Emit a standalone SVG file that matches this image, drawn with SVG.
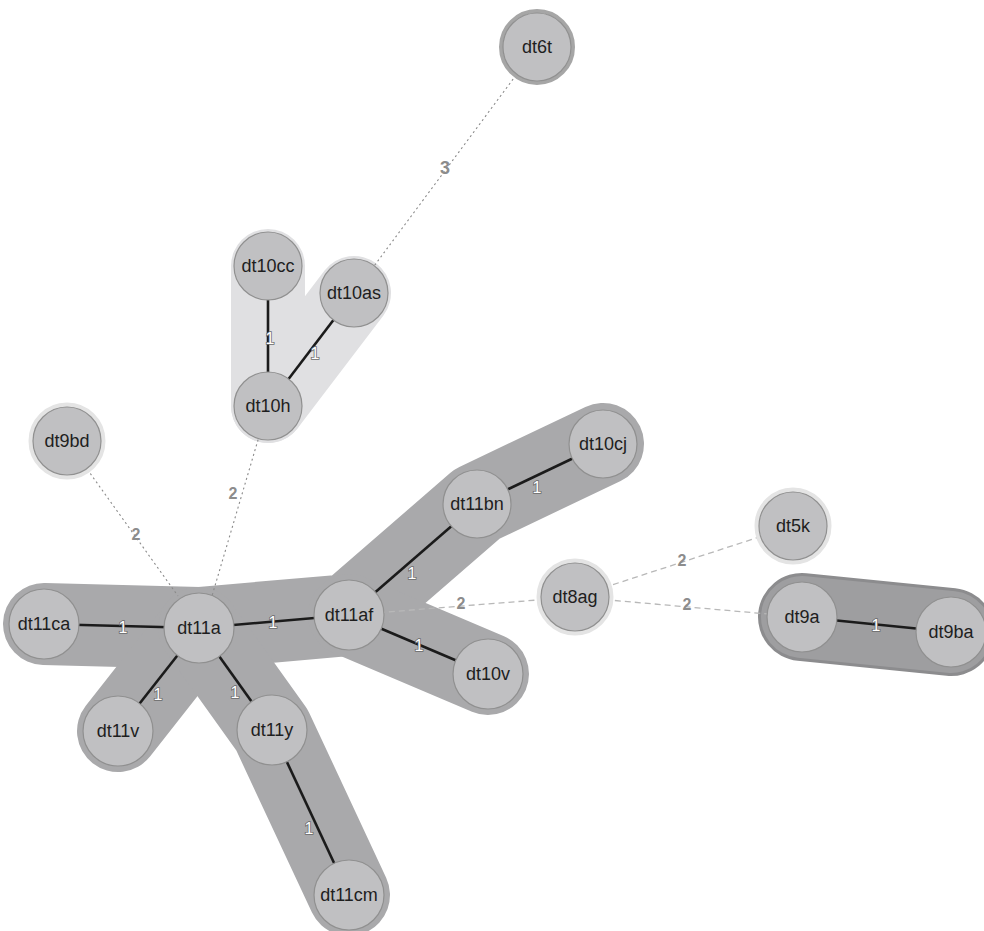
<svg xmlns="http://www.w3.org/2000/svg" width="984" height="931" viewBox="0 0 984 931">
  <style>
    .hull-main { stroke: #a9a9ab; stroke-width: 82; stroke-linecap: round; stroke-linejoin: round; fill: none; }
    .hull-light { stroke: #e0e0e2; stroke-width: 74; stroke-linecap: round; stroke-linejoin: round; fill: none; }
    .hull-dark-edge { stroke: #8c8c8e; stroke-width: 88; stroke-linecap: round; fill: none; }
    .hull-dark { stroke: #9e9ea0; stroke-width: 82; stroke-linecap: round; fill: none; }
    .e-solid { stroke: #1b1b1b; stroke-width: 2.6; fill: none; }
    .e-dot { stroke: #8a8a8a; stroke-width: 1.1; stroke-dasharray: 2 3; fill: none; }
    .e-dash { stroke: #b8b8b8; stroke-width: 1.3; stroke-dasharray: 6 4; fill: none; }
    .node circle.body { fill: #c0c0c2; stroke: #909090; stroke-width: 1.2; }
    .node circle.halo { fill: none; stroke: #e4e4e4; stroke-width: 5; }
    .node circle.ring { fill: none; stroke: #a6a6a6; stroke-width: 4; }
    .node text { font-family: "Liberation Sans", Arial, sans-serif; font-size: 18px; fill: #1e1e1e; text-anchor: middle; dominant-baseline: central; }
    .w1 { font-family: "Liberation Sans", Arial, sans-serif; font-size: 16px; fill: #ffffff; stroke: #6a6a6a; stroke-width: 1.6; paint-order: stroke; text-anchor: middle; dominant-baseline: central; }
    .w2 { font-family: "Liberation Sans", Arial, sans-serif; font-size: 16px; font-weight: bold; fill: #8c8c8c; text-anchor: middle; dominant-baseline: central; }
    .w3 { font-size: 18px; }
  </style>

  <!-- cluster hulls -->
  <g id="hulls">
    <g id="hull-main">
      <polyline class="hull-main" points="44,624 199,628 349,615 477,504 603,444"/>
      <line class="hull-main" x1="349" y1="615" x2="488" y2="674"/>
      <line class="hull-main" x1="199" y1="628" x2="118" y2="731"/>
      <polyline class="hull-main" points="199,628 272,730 349,895"/>
    </g>
    <g id="hull-dt10">
      <line class="hull-light" x1="268" y1="266" x2="268" y2="406"/>
      <line class="hull-light" x1="354" y1="293" x2="268" y2="406"/>
    </g>
    <g id="hull-dt9">
      <line class="hull-dark-edge" x1="802" y1="617" x2="951" y2="632"/>
      <line class="hull-dark" x1="802" y1="617" x2="951" y2="632"/>
    </g>
  </g>

  <!-- connectors -->
  <g id="connectors">
    <line class="e-dot" x1="537" y1="47" x2="354" y2="293"/>
    <line class="e-dot" x1="67" y1="441" x2="178" y2="596"/>
    <line class="e-dot" x1="268" y1="406" x2="212" y2="596"/>
    <line class="e-dash" x1="349" y1="615" x2="575" y2="597"/>
    <line class="e-dash" x1="575" y1="597" x2="793" y2="526"/>
    <line class="e-dash" x1="575" y1="597" x2="802" y2="617"/>

    <line class="e-solid" x1="268" y1="266" x2="268" y2="406"/>
    <line class="e-solid" x1="354" y1="293" x2="268" y2="406"/>
    <line class="e-solid" x1="44" y1="624" x2="199" y2="628"/>
    <line class="e-solid" x1="199" y1="628" x2="349" y2="615"/>
    <line class="e-solid" x1="349" y1="615" x2="477" y2="504"/>
    <line class="e-solid" x1="477" y1="504" x2="603" y2="444"/>
    <line class="e-solid" x1="349" y1="615" x2="488" y2="674"/>
    <line class="e-solid" x1="199" y1="628" x2="118" y2="731"/>
    <line class="e-solid" x1="199" y1="628" x2="272" y2="730"/>
    <line class="e-solid" x1="272" y1="730" x2="349" y2="895"/>
    <line class="e-solid" x1="802" y1="617" x2="951" y2="632"/>

    <text class="w2 w3" x="445" y="168">3</text>
    <text class="w2" x="136" y="534">2</text>
    <text class="w2" x="233" y="493">2</text>
    <text class="w2" x="461" y="603">2</text>
    <text class="w2" x="682" y="560">2</text>
    <text class="w2" x="687" y="604">2</text>

    <text class="w1" x="270" y="338">1</text>
    <text class="w1" x="315" y="353">1</text>
    <text class="w1" x="123" y="627">1</text>
    <text class="w1" x="273" y="622">1</text>
    <text class="w1" x="412" y="573">1</text>
    <text class="w1" x="537" y="487">1</text>
    <text class="w1" x="419" y="645">1</text>
    <text class="w1" x="158" y="694">1</text>
    <text class="w1" x="235" y="692">1</text>
    <text class="w1" x="309" y="828">1</text>
    <text class="w1" x="876" y="625">1</text>
  </g>

  <!-- nodes -->
  <g id="dt6t" class="node"><circle class="ring" cx="537" cy="47" r="36"/><circle class="body" cx="537" cy="47" r="34"/><text x="537" y="47">dt6t</text></g>
  <g id="dt10cc" class="node"><circle class="body" cx="268" cy="266" r="34"/><text x="268" y="266">dt10cc</text></g>
  <g id="dt10as" class="node"><circle class="body" cx="354" cy="293" r="34"/><text x="354" y="293">dt10as</text></g>
  <g id="dt10h" class="node"><circle class="body" cx="268" cy="406" r="34"/><text x="268" y="406">dt10h</text></g>
  <g id="dt9bd" class="node"><circle class="halo" cx="67" cy="441" r="36"/><circle class="body" cx="67" cy="441" r="34"/><text x="67" y="441">dt9bd</text></g>
  <g id="dt10cj" class="node"><circle class="body" cx="603" cy="444" r="34"/><text x="603" y="444">dt10cj</text></g>
  <g id="dt11bn" class="node"><circle class="body" cx="477" cy="504" r="34"/><text x="477" y="504">dt11bn</text></g>
  <g id="dt5k" class="node"><circle class="halo" cx="793" cy="526" r="36"/><circle class="body" cx="793" cy="526" r="34"/><text x="793" y="526">dt5k</text></g>
  <g id="dt8ag" class="node"><circle class="halo" cx="575" cy="597" r="36"/><circle class="body" cx="575" cy="597" r="34"/><text x="575" y="597">dt8ag</text></g>
  <g id="dt11ca" class="node"><circle class="body" cx="44" cy="624" r="35"/><text x="44" y="624">dt11ca</text></g>
  <g id="dt11a" class="node"><circle class="body" cx="199" cy="628" r="35"/><text x="199" y="628">dt11a</text></g>
  <g id="dt11af" class="node"><circle class="body" cx="349" cy="615" r="35"/><text x="349" y="615">dt11af</text></g>
  <g id="dt9a" class="node"><circle class="body" cx="802" cy="617" r="35"/><text x="802" y="617">dt9a</text></g>
  <g id="dt9ba" class="node"><circle class="body" cx="951" cy="632" r="35"/><text x="951" y="632">dt9ba</text></g>
  <g id="dt10v" class="node"><circle class="body" cx="488" cy="674" r="35"/><text x="488" y="674">dt10v</text></g>
  <g id="dt11v" class="node"><circle class="body" cx="118" cy="731" r="35"/><text x="118" y="731">dt11v</text></g>
  <g id="dt11y" class="node"><circle class="body" cx="272" cy="730" r="35"/><text x="272" y="730">dt11y</text></g>
  <g id="dt11cm" class="node"><circle class="body" cx="349" cy="895" r="35"/><text x="349" y="895">dt11cm</text></g>
</svg>
